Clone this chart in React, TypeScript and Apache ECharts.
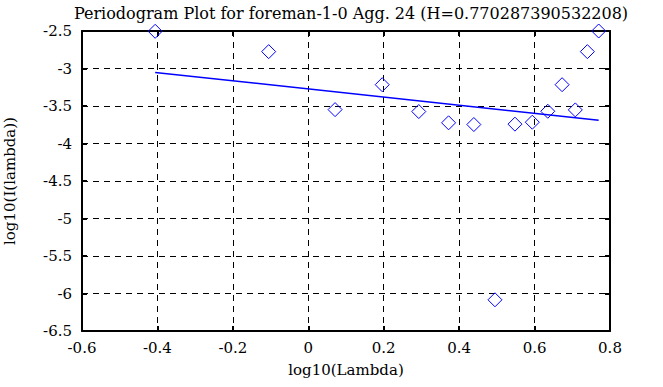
import React, { useEffect, useRef } from "react";
import * as echarts from "echarts";

const titleText = "Periodogram Plot for foreman-1-0 Agg. 24 (H=0.770287390532208)";
const logLambda = [-0.406, -0.105, 0.071, 0.196, 0.293, 0.372, 0.439, 0.495, 0.548, 0.594, 0.635, 0.673, 0.708, 0.740, 0.770];
const logI = [-2.504, -2.775, -3.548, -3.216, -3.574, -3.724, -3.747, -6.084, -3.742, -3.716, -3.570, -3.216, -3.552, -2.775, -2.500];
const fitX = [-0.406, 0.770];
const fitY = [-3.053, -3.689];

const FONT = "'DejaVu Serif', 'Liberation Serif', serif";

export default function App() {
  const ref = useRef<HTMLDivElement>(null);
  useEffect(() => {
    if (!ref.current) return;
    const chart = echarts.init(ref.current, undefined, { renderer: "svg" });
    const axisLine = { show: true, onZero: false, lineStyle: { color: "#000", width: 2 } };
    const tick = { show: true, inside: true, length: 5, lineStyle: { color: "#000", width: 2 } };
    const split = { show: true, lineStyle: { color: "#000", width: 1, type: [6, 5] } };
    const label = { color: "#000", fontFamily: FONT, fontSize: 15 };
    chart.setOption({
      animation: false,
      backgroundColor: "#fff",
      title: {
        text: titleText,
        left: 346,
        textAlign: "center",
        top: 0,
        textStyle: { fontFamily: FONT, fontSize: 16, fontWeight: "normal", color: "#000" },
      },
      grid: { left: 82, right: 53, top: 31, bottom: 56, containLabel: false, outerBoundsMode: "none" },
      xAxis: [
        {
          type: "value",
          min: -0.6,
          max: 0.8,
          interval: 0.2,
          position: "bottom",
          name: "log10(Lambda)",
          nameLocation: "middle",
          nameGap: 31,
          nameTextStyle: { color: "#000", fontFamily: FONT, fontSize: 15 },
          axisLine,
          axisTick: tick,
          splitLine: split,
          axisLabel: { ...label, margin: 9, formatter: (v: number) => String(Math.round(v * 10) / 10) },
        },
        {
          type: "value",
          min: -0.6,
          max: 0.8,
          interval: 0.2,
          position: "top",
          axisLine,
          axisTick: tick,
          splitLine: { show: false },
          axisLabel: { show: false },
        },
      ],
      yAxis: [
        {
          type: "value",
          min: -6.5,
          max: -2.5,
          interval: 0.5,
          position: "left",
          name: "log10(I(lambda))",
          nameLocation: "middle",
          nameGap: 65,
          nameTextStyle: { color: "#000", fontFamily: FONT, fontSize: 15 },
          axisLine,
          axisTick: tick,
          splitLine: split,
          axisLabel: { ...label, margin: 10, formatter: (v: number) => String(Math.round(v * 10) / 10) },
        },
        {
          type: "value",
          min: -6.5,
          max: -2.5,
          interval: 0.5,
          position: "right",
          axisLine,
          axisTick: tick,
          splitLine: { show: false },
          axisLabel: { show: false },
        },
      ],
      series: [
        {
          type: "line",
          xAxisIndex: 0,
          yAxisIndex: 0,
          data: fitX.map((x, i) => [x, fitY[i]]),
          symbol: "none",
          lineStyle: { color: "#0000ff", width: 1.5 },
          z: 3,
        },
        {
          type: "scatter",
          xAxisIndex: 0,
          yAxisIndex: 0,
          data: logLambda.map((x, i) => [x, logI[i]]),
          symbol: "diamond",
          symbolSize: 14,
          clip: false,
          itemStyle: { color: "none", borderColor: "#0000ff", borderWidth: 1, opacity: 1 },
          z: 4,
        },
      ],
    });
    return () => chart.dispose();
  }, []);
  return <div ref={ref} style={{ position: "fixed", left: 0, top: 0, width: 663, height: 387 }} />;
}
